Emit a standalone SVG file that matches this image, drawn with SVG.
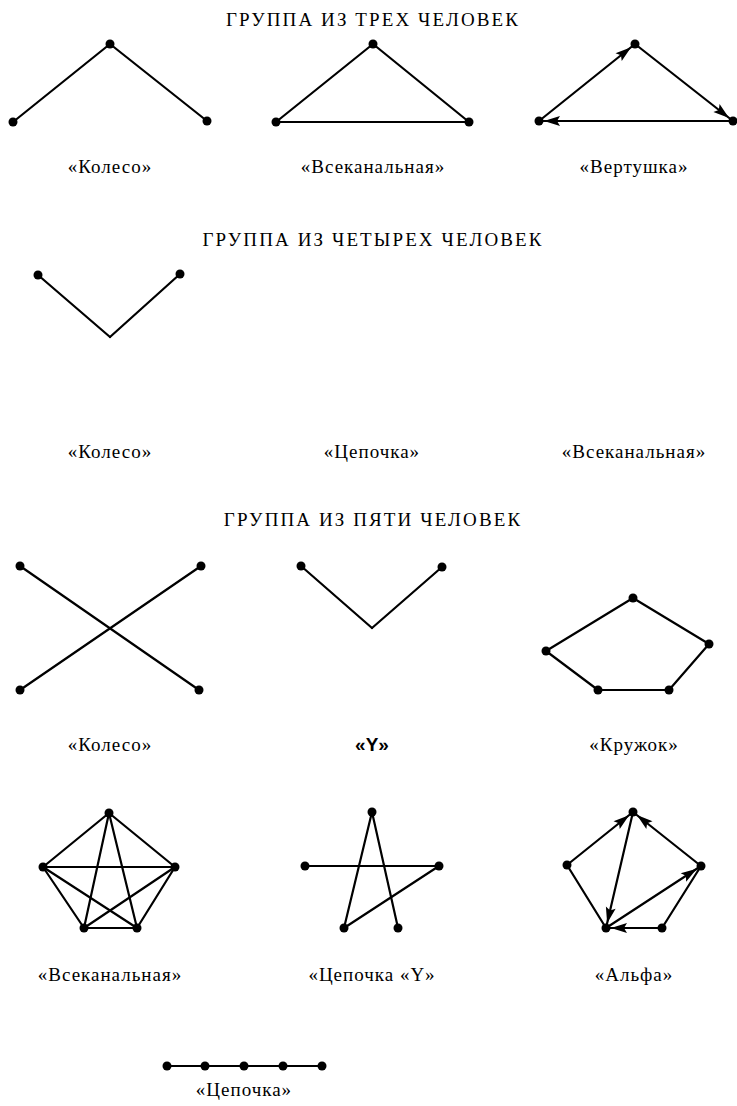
<svg xmlns="http://www.w3.org/2000/svg" width="737" height="1106" viewBox="0 0 737 1106">
<style>
.e{stroke:#000;stroke-width:2.2;fill:none;stroke-linecap:round}
.d{fill:#000}
.t{font-family:"Liberation Serif","Times New Roman","DejaVu Serif",serif;font-size:19px;letter-spacing:1px;fill:#000;text-anchor:middle}
.h{font-family:"Liberation Serif","Times New Roman","DejaVu Serif",serif;font-size:19px;letter-spacing:2.1px;fill:#000;text-anchor:middle}
.b{font-family:"Liberation Sans",Arial,sans-serif;font-size:19px;font-weight:bold;fill:#000;text-anchor:middle}
.a{marker-end:url(#arr)}
</style>
<defs>
<marker id="arr" markerUnits="userSpaceOnUse" markerWidth="30" markerHeight="12" refX="21" refY="5" orient="auto" overflow="visible">
<path d="M0,0 L16,5 L0,10 L3,5 z" fill="#000"/>
</marker>
</defs>
<g id="titles">
<text class="h" x="373" y="26">ГРУППА ИЗ ТРЕХ ЧЕЛОВЕК</text>
<text class="h" x="373" y="246">ГРУППА ИЗ ЧЕТЫРЕХ ЧЕЛОВЕК</text>
<text class="h" x="373" y="526">ГРУППА ИЗ ПЯТИ ЧЕЛОВЕК</text>
</g>
<g id="connectors">
<line class="e" x1="13" y1="122" x2="110" y2="44"/>
<line class="e" x1="110" y1="44" x2="207" y2="121"/>
<line class="e" x1="276" y1="122" x2="373" y2="44"/>
<line class="e" x1="373" y1="44" x2="469" y2="122"/>
<line class="e" x1="276" y1="122" x2="469" y2="122"/>
<line class="e a" x1="539" y1="121" x2="635" y2="44"/>
<line class="e a" x1="635" y1="44" x2="733" y2="121"/>
<line class="e a" x1="733" y1="121" x2="539" y2="121"/>
<line class="e" x1="38" y1="275" x2="110" y2="337"/>
<line class="e" x1="110" y1="337" x2="180" y2="274"/>
<line class="e" x1="20" y1="566" x2="199" y2="690"/>
<line class="e" x1="201" y1="566" x2="20" y2="690"/>
<line class="e" x1="301" y1="566" x2="372" y2="628"/>
<line class="e" x1="372" y1="628" x2="442" y2="567"/>
<line class="e" x1="633" y1="598" x2="709" y2="644"/>
<line class="e" x1="633" y1="598" x2="546" y2="651"/>
<line class="e" x1="546" y1="651" x2="598" y2="690"/>
<line class="e" x1="598" y1="690" x2="669" y2="690"/>
<line class="e" x1="669" y1="690" x2="709" y2="644"/>
<line class="e" x1="109" y1="813" x2="43" y2="867"/>
<line class="e" x1="109" y1="813" x2="175" y2="867"/>
<line class="e" x1="109" y1="813" x2="84" y2="928"/>
<line class="e" x1="109" y1="813" x2="137" y2="928"/>
<line class="e" x1="43" y1="867" x2="175" y2="867"/>
<line class="e" x1="43" y1="867" x2="84" y2="928"/>
<line class="e" x1="43" y1="867" x2="137" y2="928"/>
<line class="e" x1="175" y1="867" x2="84" y2="928"/>
<line class="e" x1="175" y1="867" x2="137" y2="928"/>
<line class="e" x1="84" y1="928" x2="137" y2="928"/>
<line class="e" x1="305" y1="866" x2="439" y2="866"/>
<line class="e" x1="372" y1="812" x2="344" y2="928"/>
<line class="e" x1="372" y1="812" x2="398" y2="928"/>
<line class="e" x1="439" y1="866" x2="344" y2="928"/>
<line class="e a" x1="567" y1="865" x2="633" y2="812"/>
<line class="e a" x1="701" y1="866" x2="633" y2="812"/>
<line class="e a" x1="633" y1="812" x2="606" y2="928"/>
<line class="e a" x1="606" y1="928" x2="701" y2="866"/>
<line class="e a" x1="662" y1="928" x2="606" y2="928"/>
<line class="e" x1="567" y1="865" x2="606" y2="928"/>
<line class="e" x1="701" y1="866" x2="662" y2="928"/>
<line class="e" x1="167" y1="1066" x2="322" y2="1066"/>
</g>
<g id="n3-wheel"><circle class="d" cx="13" cy="122" r="4.5"/><circle class="d" cx="110" cy="44" r="4.5"/><circle class="d" cx="207" cy="121" r="4.5"/><text class="t" x="110" y="173">«Колесо»</text></g>
<g id="n3-all"><circle class="d" cx="276" cy="122" r="4.5"/><circle class="d" cx="373" cy="44" r="4.5"/><circle class="d" cx="469" cy="122" r="4.5"/><text class="t" x="373" y="173">«Всеканальная»</text></g>
<g id="n3-spin"><circle class="d" cx="539" cy="121" r="4.5"/><circle class="d" cx="635" cy="44" r="4.5"/><circle class="d" cx="733" cy="121" r="4.5"/><text class="t" x="634" y="173">«Вертушка»</text></g>
<g id="n4-wheel"><circle class="d" cx="38" cy="275" r="4.5"/><circle class="d" cx="180" cy="274" r="4.5"/><text class="t" x="110" y="458">«Колесо»</text></g>
<g id="n4-chain"><text class="t" x="372" y="458">«Цепочка»</text></g>
<g id="n4-all"><text class="t" x="634" y="458">«Всеканальная»</text></g>
<g id="n5-wheel"><circle class="d" cx="20" cy="566" r="4.5"/><circle class="d" cx="201" cy="566" r="4.5"/><circle class="d" cx="20" cy="690" r="4.5"/><circle class="d" cx="199" cy="690" r="4.5"/><text class="t" x="110" y="751">«Колесо»</text></g>
<g id="n5-y"><circle class="d" cx="301" cy="566" r="4.5"/><circle class="d" cx="442" cy="567" r="4.5"/><text class="b" x="372" y="751">«Y»</text></g>
<g id="n5-circle"><circle class="d" cx="633" cy="598" r="4.5"/><circle class="d" cx="709" cy="644" r="4.5"/><circle class="d" cx="546" cy="651" r="4.5"/><circle class="d" cx="598" cy="690" r="4.5"/><circle class="d" cx="669" cy="690" r="4.5"/><text class="t" x="634" y="751">«Кружок»</text></g>
<g id="n5-all"><circle class="d" cx="109" cy="813" r="4.5"/><circle class="d" cx="43" cy="867" r="4.5"/><circle class="d" cx="175" cy="867" r="4.5"/><circle class="d" cx="84" cy="928" r="4.5"/><circle class="d" cx="137" cy="928" r="4.5"/><text class="t" x="110" y="981">«Всеканальная»</text></g>
<g id="n5-chainy"><circle class="d" cx="372" cy="812" r="4.5"/><circle class="d" cx="305" cy="866" r="4.5"/><circle class="d" cx="439" cy="866" r="4.5"/><circle class="d" cx="344" cy="928" r="4.5"/><circle class="d" cx="398" cy="928" r="4.5"/><text class="t" x="372" y="981">«Цепочка «Y»</text></g>
<g id="n5-alpha"><circle class="d" cx="633" cy="812" r="4.5"/><circle class="d" cx="567" cy="865" r="4.5"/><circle class="d" cx="701" cy="866" r="4.5"/><circle class="d" cx="606" cy="928" r="4.5"/><circle class="d" cx="662" cy="928" r="4.5"/><text class="t" x="634" y="981">«Альфа»</text></g>
<g id="n5-chain"><circle class="d" cx="167" cy="1066" r="4.5"/><circle class="d" cx="205" cy="1066" r="4.5"/><circle class="d" cx="244" cy="1066" r="4.5"/><circle class="d" cx="283" cy="1066" r="4.5"/><circle class="d" cx="322" cy="1066" r="4.5"/><text class="t" x="244" y="1096">«Цепочка»</text></g>
</svg>
